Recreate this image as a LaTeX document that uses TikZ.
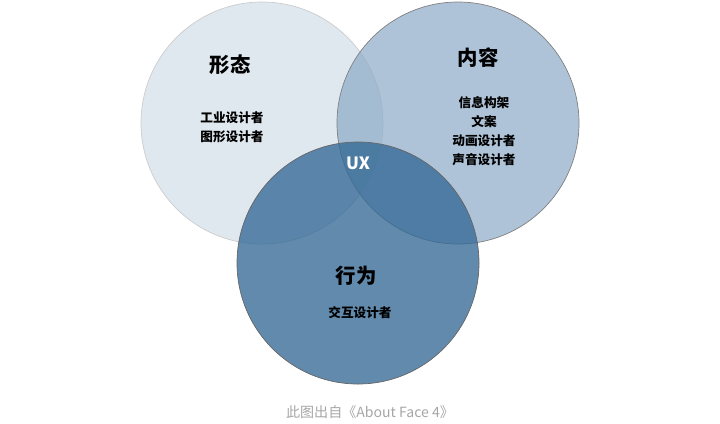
\documentclass[tikz,border=0pt]{standalone}
\usepackage{fontspec}
\setmainfont{Noto Sans CJK SC}
\definecolor{formfill}{RGB}{214,224,234}
\definecolor{contfill}{RGB}{140,170,198}
\definecolor{behafill}{RGB}{52,105,150}
\begin{document}
\begin{tikzpicture}[x=0.025cm,y=-0.025cm]
	\tikzset{ring/.style={circle,draw=gray,line width=0.5pt,minimum size=242*0.025cm,inner sep=0pt},
		title/.style={font=\bfseries\fontsize{14.5}{16}\selectfont},
		role/.style={font=\bfseries\fontsize{9}{13.5}\selectfont,align=center}}
	\useasboundingbox (0,0) rectangle (720,423);
	\node[ring,draw=gray!40,fill=formfill,fill opacity=0.75] (form) at (262,123) {};
	\node[ring,fill=contfill,fill opacity=0.7] (cont) at (458,123) {};
	\node[ring,draw=gray!80!black,fill=behafill,fill opacity=0.78] (beha) at (358,263) {};

	\node[title] (formt) at (230,65) {形态};
	\node[role] (forml) at (232,127) {工业设计者\\图形设计者};
	\node[title] (contt) at (478,58) {内容};
	\node[role] (contl) at (484,131) {信息构架\\文案\\动画设计者\\声音设计者};
	\node[title] (behat) at (356,276) {行为};
	\node[role] (behal) at (360,313) {交互设计者};
	\node[font=\bfseries\fontsize{12}{14}\selectfont,text=white] (ux) at (358,163) {UX};
	\node[text=gray!70,font=\fontsize{10}{12}\selectfont] (note) at (370,412) {此图出自《About Face 4》};
\end{tikzpicture}
\end{document}
